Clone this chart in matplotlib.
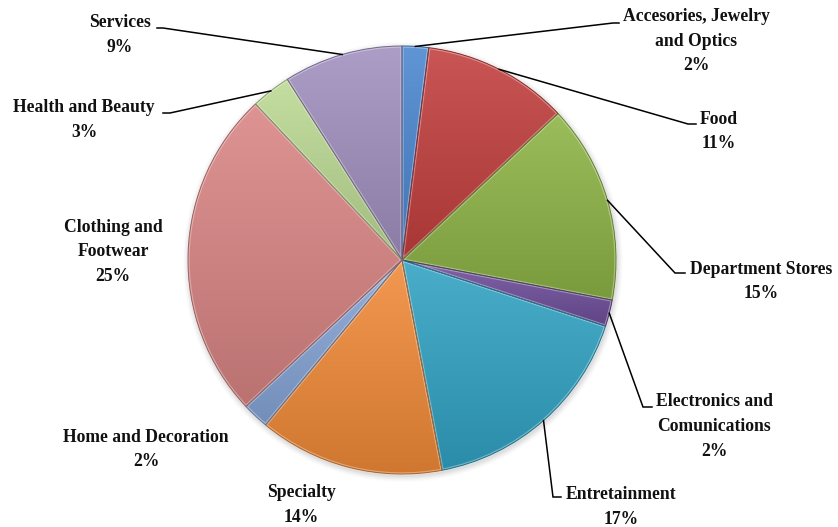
import numpy as np
import matplotlib
matplotlib.use("Agg")
import matplotlib.pyplot as plt
from matplotlib.patches import PathPatch
from matplotlib.colors import LinearSegmentedColormap, to_rgb

# Share of tenants by business category
categories = [
    "Accesories, Jewelry\nand Optics",
    "Food",
    "Department Stores",
    "Electronics and\nComunications",
    "Entretainment",
    "Specialty",
    "Home and Decoration",
    "Clothing and\nFootwear",
    "Health and Beauty",
    "Services",
]
shares = [2, 11, 15, 2, 17, 14, 2, 25, 3, 9]
colors = ["#4a86d0", "#c23f3d", "#8db445", "#6f4f9c", "#31a3c4",
          "#f18a38", "#86a5d6", "#d98584", "#bcd993", "#a190c0"]

# label layout in pixel coordinates (x centre, y centre of text block)
label_pos = [(696, 41), (719, 131.5), (761, 281.5), (714, 426.5), (621, 507),
             (301, 505), (146, 449.5), (113, 252), (84, 120), (120, 35)]
# leader elbow and end points (pixels), None where no leader is drawn
leaders = [((613, 23), (619, 23)), ((688, 124), (696, 124)),
           ((675, 273), (685, 273)), ((643, 407), (652, 407)),
           ((553, 497), (561, 497)), None, None, None,
           ((170, 113), (163, 113)), ((163, 28), (157, 28))]

W, H = 838, 527
fig = plt.figure(figsize=(W / 100, H / 100), dpi=100)
ax = fig.add_axes([0, 0, 1, 1])


def py(y):
    return H - y


cx, cy, r = 402, py(260), 214

# soft drop shadow under the pie
for k, a in zip(range(6, 0, -1), [0.02, 0.03, 0.04, 0.05, 0.06, 0.07]):
    ax.add_patch(plt.Circle((cx + 1, cy - 2), r + k, color="#808080",
                            alpha=a, lw=0, zorder=0))

wedges, _ = ax.pie(shares, colors=colors, startangle=90, counterclock=False,
                   center=(cx, cy), radius=r, frame=True,
                   wedgeprops=dict(linewidth=0))
ax.set_xlim(0, W)
ax.set_ylim(0, H)
ax.set_aspect("equal")
ax.axis("off")


def shade(c, f):
    rgb = np.array(to_rgb(c))
    if f >= 1:
        return tuple(rgb + (1 - rgb) * (f - 1))
    return tuple(rgb * f)


for w, c in zip(wedges, colors):
    path = w.get_path().transformed(w.get_transform() - ax.transData)
    bb = path.get_extents()
    cmap = LinearSegmentedColormap.from_list(
        "g", [shade(c, 1.12), shade(c, 0.86)])
    grad = np.linspace(0, 1, 256).reshape(-1, 1)
    im = ax.imshow(grad, cmap=cmap, aspect="auto",
                   extent=[bb.x0, bb.x1, bb.y0, bb.y1], origin="upper",
                   zorder=1.5, interpolation="bicubic")
    im.set_clip_path(w)
    # bevel highlight along the wedge border
    hl = PathPatch(path, fill=False, edgecolor=(1, 1, 1, 0.35), lw=2.4,
                   zorder=1.6)
    ax.add_patch(hl)
    hl.set_clip_path(w)
    ax.add_patch(PathPatch(path, fill=False, edgecolor=shade(c, 0.72),
                           lw=0.7, zorder=1.7))

ax.set_xlim(0, W)
ax.set_ylim(0, H)

font = dict(family=["Liberation Serif", "DejaVu Serif"], weight="bold",
            size=12.7, color="#111111")

for w, name, val, pos, ld in zip(wedges, categories, shares, label_pos,
                                 leaders):
    ax.text(pos[0], py(pos[1]), f"{name}\n{val}%", ha="center", va="center",
            linespacing=1.6, zorder=5, **font)
    if ld is not None:
        mid = np.deg2rad((w.theta1 + w.theta2) / 2)
        sx, sy = cx + r * np.cos(mid), cy + r * np.sin(mid)
        (ex, ey), (tx, ty) = ld
        ax.plot([sx, ex, tx], [sy, py(ey), py(ty)], color="black", lw=1.1,
                zorder=4, solid_joinstyle="miter")

fig.savefig("out.png", dpi=100, facecolor="white")
